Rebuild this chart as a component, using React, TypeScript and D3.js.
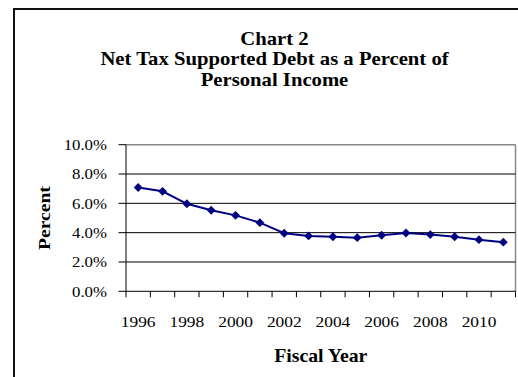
import React from "react";
import * as d3 from "d3";

const years = ["1996","1997","1998","1999","2000","2001","2002","2003","2004","2005","2006","2007","2008","2009","2010","2011"];
const debtPct = [7.08, 6.82, 5.97, 5.53, 5.18, 4.68, 3.96, 3.78, 3.72, 3.66, 3.82, 3.98, 3.87, 3.72, 3.52, 3.35];
const yTicks = [0, 2, 4, 6, 8, 10];
const labeledYears = ["1996","1998","2000","2002","2004","2006","2008","2010"];
const titleLines = ["Chart 2", "Net Tax Supported Debt as a Percent of", "Personal Income"];

function T(props: { x: number; y: number; sx: number; size: number; anchor?: string; bold?: boolean; dy?: string; rot?: number; children: React.ReactNode }) {
  const { x, y, sx, size, anchor = "middle", bold = false, dy, rot = 0, children } = props;
  return (
    <text
      transform={`translate(${x},${y}) rotate(${rot}) scale(${sx},1)`}
      textAnchor={anchor as any}
      fontWeight={bold ? "bold" : "normal"}
      fontSize={size}
      dy={dy}
      fill="#000"
    >
      {children}
    </text>
  );
}

export default function App() {
  const W = 518, H = 377;
  const left = 126, right = 515.5, top = 144.7, bottom = 291.3;
  const x = d3.scaleBand<string>().domain(years).range([left, right]).paddingInner(0).paddingOuter(0);
  const y = d3.scaleLinear().domain([0, 10]).range([bottom, top]);
  const cx = (yr: string) => (x(yr) as number) + x.bandwidth() / 2;
  const line = d3.line<number>()
    .x((_, i) => cx(years[i]))
    .y((d) => y(d));
  const font = "'Liberation Serif', 'Times New Roman', serif";
  const diamond = d3.symbol().type(d3.symbolDiamond2).size(50)();
  const tickEdges = years.map((yr) => x(yr) as number).concat([right]);
  return (
    <svg width={W} height={H} style={{ position: "absolute", left: 0, top: 0, background: "#fff" }} fontFamily={font}>
      <rect x={0} y={0} width={W} height={H} fill="#fff" />
      {/* outer frame */}
      <rect x={14} y={9} width={560} height={420} fill="none" stroke="#111" strokeWidth={2} />
      {/* title */}
      {titleLines.map((t, i) => (
        <T key={i} x={274.5} y={44.5 + i * 20.5} sx={1.15} size={18} bold>{t}</T>
      ))}
      {/* plot frame gray top/right */}
      <line x1={left} x2={right} y1={top} y2={top} stroke="#888" strokeWidth={1.5} />
      <line x1={right} x2={right} y1={top} y2={bottom} stroke="#888" strokeWidth={1.5} />
      {/* gridlines */}
      {yTicks.filter((t) => t > 0 && t < 10).map((t) => (
        <line key={t} x1={left} x2={right} y1={y(t)} y2={y(t)} stroke="#000" strokeWidth={1} />
      ))}
      {/* y axis */}
      <line x1={left} x2={left} y1={top} y2={bottom + 0.5} stroke="#000" strokeWidth={1} />
      {yTicks.map((t) => (
        <g key={t}>
          <line x1={118.5} x2={left} y1={y(t)} y2={y(t)} stroke="#000" strokeWidth={1} />
          <T x={107} y={y(t) + 5.3} sx={1.12} size={15} anchor="end">{d3.format(".1f")(t)}%</T>
        </g>
      ))}
      {/* x axis */}
      <line x1={left} x2={right} y1={bottom} y2={bottom} stroke="#000" strokeWidth={1} />
      {tickEdges.map((tx, i) => (
        <line key={i} x1={tx} x2={tx} y1={bottom} y2={bottom + 6} stroke="#000" strokeWidth={1} />
      ))}
      {labeledYears.map((yr) => (
        <T key={yr} x={cx(yr)} y={326.5} sx={1.12} size={15.5}>{yr}</T>
      ))}
      {/* axis titles */}
      <T x={50} y={(top + bottom) / 2} rot={-90} sx={1.12} size={17.5} bold>Percent</T>
      <T x={(left + right) / 2} y={361.5} sx={1.1} size={18} bold>Fiscal Year</T>
      {/* series */}
      <path d={line(debtPct) || ""} fill="none" stroke="#000080" strokeWidth={2} />
      {debtPct.map((v, i) => (
        <path key={i} d={diamond || ""} transform={`translate(${cx(years[i])},${y(v)})`} fill="#000080" />
      ))}
    </svg>
  );
}
